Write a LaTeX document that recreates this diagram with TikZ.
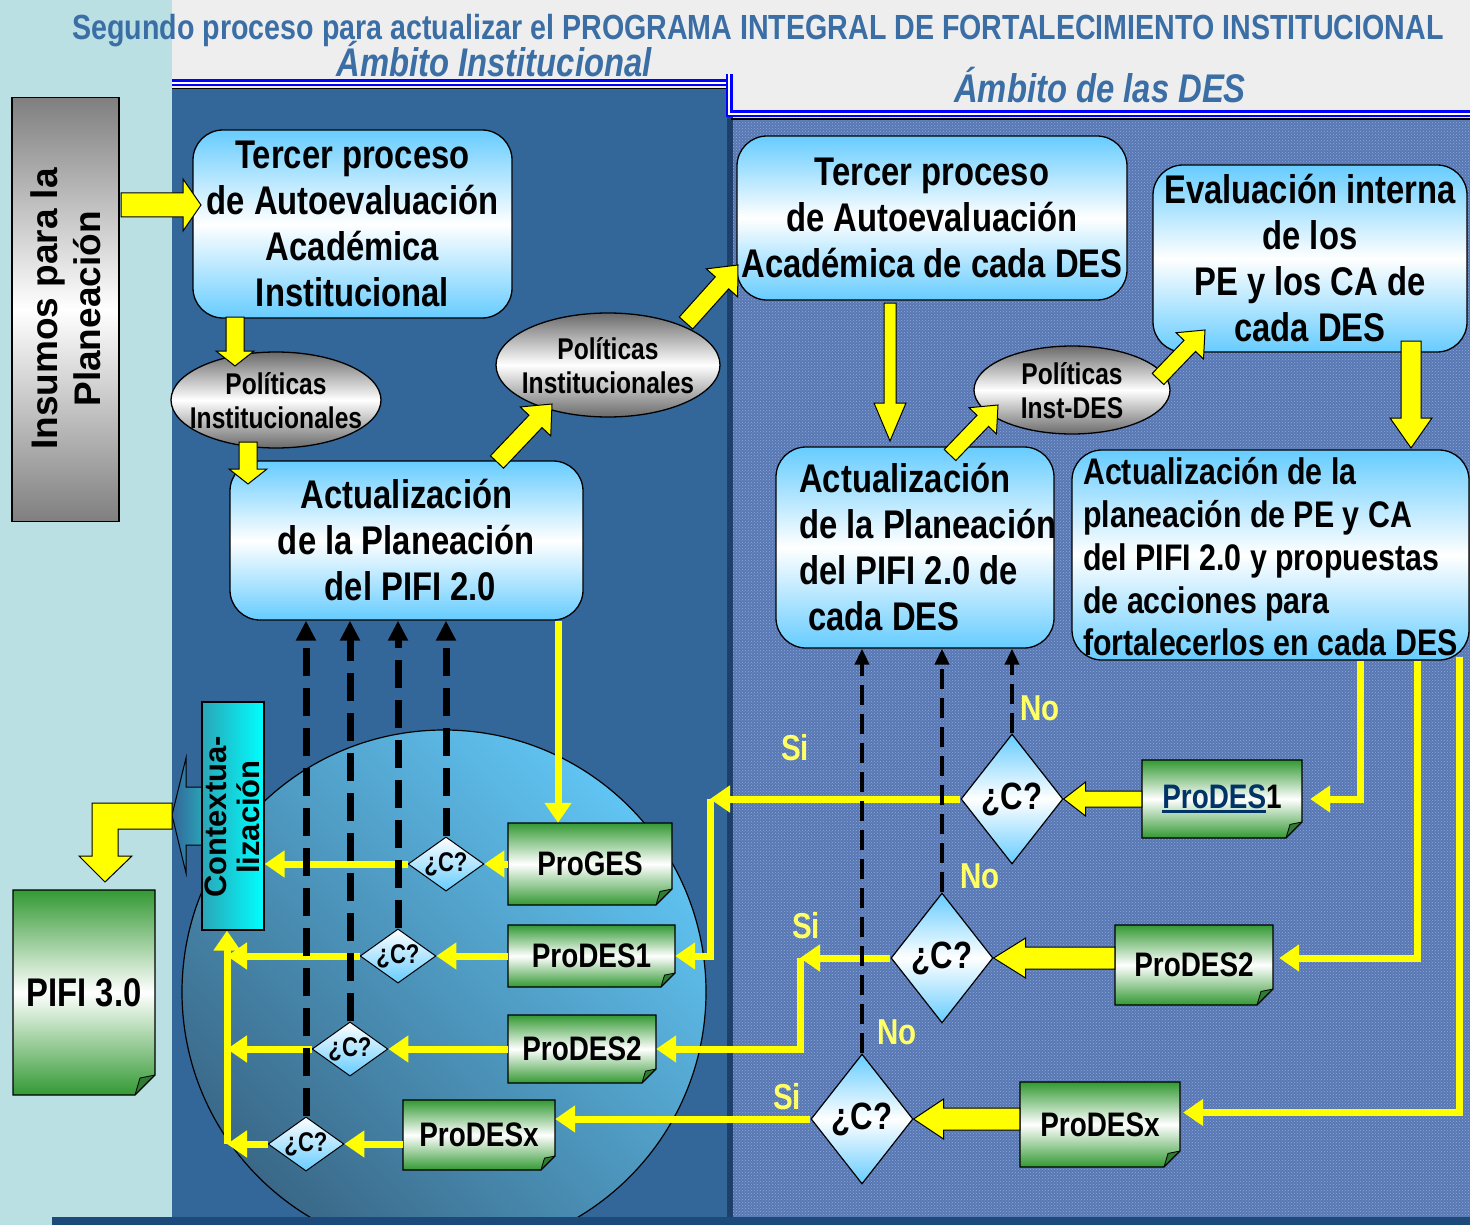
\documentclass[tikz,border=0pt]{standalone}
\usepackage{fontspec}
\setmainfont{Liberation Sans}
\newfontfamily\nrw[FakeStretch=0.82]{Liberation Sans}
\usetikzlibrary{shapes.geometric,arrows.meta,calc,patterns}

\definecolor{panelblue}{HTML}{336699}
\definecolor{desblue}{HTML}{5878B4}
\definecolor{destex}{HTML}{8EA8D8}
\definecolor{strip}{HTML}{BAE0E4}
\definecolor{marble}{HTML}{EEEEEE}
\definecolor{titleblue}{HTML}{3A6EA5}
\definecolor{lblue}{HTML}{66CCFF}
\definecolor{pgreen}{HTML}{339933}
\definecolor{dgreen}{HTML}{2E7D32}
\definecolor{ygold}{HTML}{FFFF00}
\definecolor{lyellow}{HTML}{FFFF66}
\definecolor{navy}{HTML}{003366}
\definecolor{cyanr}{HTML}{00FFFF}
\definecolor{tealc}{HTML}{2AA6B8}
\definecolor{egray}{HTML}{6A6A6A}
\definecolor{igray}{HTML}{7F7F7F}
\definecolor{sepblue}{HTML}{1E3F6A}
\definecolor{circL}{HTML}{60C4F2}
\definecolor{circD}{HTML}{3A6888}
\definecolor{barblue}{HTML}{1C4A7A}

\newcommand\btxt{\nrw\bfseries\fontsize{40}{46}\selectfont}
\newcommand\bsixtxt{\nrw\bfseries\fontsize{37}{42.8}\selectfont}
\newcommand\etxt{\nrw\bfseries\fontsize{30}{34}\selectfont}
\newcommand\sdtxt{\nrw\bfseries\fontsize{27}{29}\selectfont}
\newcommand\bdtxt{\nrw\bfseries\fontsize{38}{40}\selectfont}
\newcommand\ptxt{\nrw\bfseries\fontsize{34}{38}\selectfont}
\newcommand\labtxt{\nrw\bfseries\fontsize{36}{38}\selectfont}
\newcommand\ttltxt{\nrw\bfseries\fontsize{34.9}{38}\selectfont}
\newcommand\ambtxt{\nrw\bfseries\itshape\fontsize{40}{44}\selectfont}
\newcommand\instxt{\bfseries\fontsize{37}{43}\selectfont}
\newcommand\ctxtxt{\bfseries\fontsize{31}{33}\selectfont}
\newcommand\myul[1]{\setbox0\hbox{#1}\rlap{\rule[-4pt]{\wd0}{2.5pt}}\box0}

\tikzset{
 bbox/.style={draw=black, line width=1.3pt, rounded corners=30pt, top color=lblue, bottom color=lblue, middle color=white, align=center, inner sep=0pt, font=\btxt},
 ell/.style={ellipse, draw=black, line width=1.3pt, top color=egray, bottom color=egray, middle color=white, inner sep=0pt},
 elltext/.style={align=center, inner sep=0pt, font=\etxt},
 sdiam/.style={diamond, draw=black, line width=1pt, top color=white, bottom color=lblue, inner sep=0pt, minimum width=72pt, minimum height=52pt, aspect=1.4, font=\sdtxt},
 bdiam/.style={diamond, draw=black, line width=1.2pt, top color=lblue, bottom color=lblue, middle color=white, inner sep=0pt, minimum width=102pt, minimum height=130pt, aspect=0.78, font=\bdtxt},
 pagetext/.style={inner sep=0pt, font=\ptxt},
 pageline/.style={draw=black, line width=1.3pt, line join=miter},
 yarr/.style={draw=ygold, line width=7pt, -{Triangle[width=26pt,length=20pt]}},
 dashL/.style={draw=black, line width=7pt, dash pattern=on 28pt off 12pt, -{Triangle[width=19pt,length=20pt]}},
 dashR/.style={draw=black, line width=4.5pt, dash pattern=on 20pt off 9pt, -{Triangle[width=14pt,length=16pt]}},
 blockarrow/.style={draw=black, fill=ygold, line width=1pt, line join=miter},
 lab/.style={text=lyellow, font=\labtxt, inner sep=0pt},
 dblue/.style={draw=blue, double=white, double distance=2pt, line width=2.5pt},
}

\newcommand\blockarr[5]{%
  \coordinate (bac) at ($(#2)!#5!(#1)$);
  \draw[blockarrow] ($(#1)!#3!90:(#2)$) -- ($(bac)!#3!90:(#2)$) -- ($(bac)!#4!90:(#2)$) -- (#2) -- ($(bac)!#4!-90:(#2)$) -- ($(bac)!#3!-90:(#2)$) -- ($(#1)!#3!-90:(#2)$) -- cycle;}

\newcommand\greenpage[7]{%
  \shade[top color=pgreen,bottom color=pgreen,middle color=white] (#2,#3) -- (#4,#3) -- (#4,{#5-#6}) -- ({#4-#6},#5) -- (#2,#5) -- cycle;
  \fill[dgreen] ({#4-#6},#5) -- (#4,{#5-#6}) -- ({#4-0.75*#6},{#5-0.85*#6}) -- cycle;
  \draw[pageline] (#2,#3) -- (#4,#3) -- (#4,{#5-#6}) -- ({#4-#6},#5) -- (#2,#5) -- cycle;
  \draw[draw=black, line width=0.8pt] ({#4-#6},#5) -- ({#4-0.75*#6},{#5-0.85*#6}) -- (#4,{#5-#6});
  \node[pagetext, minimum width={#4-#2}, minimum height={#5-#3}] (#1) at ({(#2+#4)/2},{(#3+#5)/2}) {#7};}

\begin{document}
\begin{tikzpicture}[x=1pt,y=-1pt]
\useasboundingbox (0,0) rectangle (1470,1225);
% backgrounds
\fill[marble] (0,0) rectangle (1470,1225);
\fill[strip] (0,0) rectangle (172,1225);
\fill[panelblue] (172,88) rectangle (730,1225);
\fill[desblue] (731,118) rectangle (1470,1225);
\fill[pattern=crosshatch dots, pattern color=destex] (731,118) rectangle (1470,1225);
\fill[sepblue] (727,88) rectangle (733,1225);
\draw[black, line width=1.5pt] (172,88.5) -- (729,88.5);
\draw[black, line width=1.5pt] (731,119) -- (1470,119);
\draw[dblue] (172,83) -- (729,83);
\draw[dblue] (729,74) -- (729,114) -- (1470,114);

% titles
\node[anchor=base, text=titleblue, font=\ttltxt, inner sep=0] (title) at (758,40) {Segundo proceso para actualizar el PROGRAMA INTEGRAL DE FORTALECIMIENTO INSTITUCIONAL};
\node[anchor=base, text=titleblue, font=\ambtxt, inner sep=0] (ambI) at (494,77) {Ámbito Institucional};
\node[anchor=base, text=titleblue, font=\ambtxt, inner sep=0] (ambD) at (1100,103) {Ámbito de las DES};

% big circle
\shade[top color=circL, bottom color=circD, shading angle=-45, draw=black, line width=1.2pt] (444,992) circle (262);
\fill[barblue] (52,1217) rectangle (1470,1225);

% insumos
\node[draw=black, line width=1.5pt, top color=igray, bottom color=igray, middle color=white, minimum width=107pt, minimum height=424pt, inner sep=0pt] (ins) at (65.5,309.5) {};
\node[rotate=90, align=center, font=\instxt, inner sep=0pt] (instext) at (66,309) {Insumos para la\\Planeación};

% boxes
\node[bbox, minimum width=319pt, minimum height=188pt] (box1) at (352.5,224) {Tercer proceso\\de Autoevaluación\\Académica\\Institucional};
\node[bbox, minimum width=353pt, minimum height=159pt] (box2) at (406.5,540.5) {Actualización\\de la Planeación\\\hspace*{8pt}del PIFI 2.0};
\node[bbox, minimum width=390pt, minimum height=164pt] (box3) at (932,218) {Tercer proceso\\de Autoevaluación\\Académica de cada DES};
\node[bbox, minimum width=314pt, minimum height=187pt] (box4) at (1310,258.5) {Evaluación interna\\de los\\PE y los CA de\\cada DES};
\node[bbox, minimum width=278pt, minimum height=201pt] (box5) at (915,547.5) {};
\node[anchor=west, align=left, font=\btxt, inner sep=0pt] (box5t) at (799,547.5) {Actualización\\de la Planeación\\del PIFI 2.0 de\\\hspace*{9pt}cada DES};
\node[bbox, minimum width=397pt, minimum height=210pt] (box6) at (1270.5,555) {};
\node[anchor=west, align=left, font=\bsixtxt, inner sep=0pt] (box6t) at (1083,557) {Actualización de la\\planeación de PE y CA\\del PIFI 2.0 y propuestas\\de acciones para\\fortalecerlos en cada DES};

% ellipses
\node[ell, minimum width=210pt, minimum height=96pt] (ell1) at (276,400) {};
\node[elltext] (ell1t) at (276,401) {Políticas\\Institucionales};
\node[ell, minimum width=224pt, minimum height=104pt] (ell2) at (608,365) {};
\node[elltext] (ell2t) at (608,366) {Políticas\\Institucionales};
\node[ell, minimum width=196pt, minimum height=88pt] (ell3) at (1072,390) {};
\node[elltext] (ell3t) at (1072,391) {Políticas\\Inst-DES};

% contextualizacion
\shade[left color=panelblue, right color=tealc, draw=black, line width=1pt, line join=miter] (204,787) -- (186,787) -- (186,758) -- (172,815) -- (186,873) -- (186,845) -- (204,845) -- cycle;
\node[draw=black, line width=1.3pt, left color=tealc, right color=cyanr, minimum width=62pt, minimum height=228pt, inner sep=0pt] (ctx) at (233,816) {};
\node[rotate=90, align=center, font=\ctxtxt, inner sep=0pt] (ctxtext) at (232,817) {Contextua-\\lización};

% pages
\greenpage{pges}{508}{823}{672}{905}{16}{ProGES}
\greenpage{pdal}{508}{925}{675}{987}{14}{ProDES1}
\greenpage{pdbl}{508}{1015}{656}{1083}{14}{ProDES2}
\greenpage{pxl}{403}{1100}{555}{1170}{14}{ProDESx}
\greenpage{pdar}{1142}{760}{1302}{838}{16}{\textcolor{navy}{\myul{ProDES}}1}
\greenpage{pdbr}{1115}{925}{1273}{1005}{16}{ProDES2}
\greenpage{pxr}{1020}{1082}{1180}{1167}{16}{ProDESx}
\greenpage{pifi}{13}{890}{155}{1095}{20}{\fontsize{40}{44}\selectfont PIFI 3.0}

% diamonds
\node[sdiam] (D1) at (446,864) {¿C?};
\node[sdiam] (D2) at (398,956) {¿C?};
\node[sdiam] (D3) at (350,1049) {¿C?};
\node[sdiam] (D4) at (306,1144) {¿C?};
\node[bdiam] (DA) at (1012,799) {¿C?};
\node[bdiam] (DB) at (942,958) {¿C?};
\node[bdiam] (DC) at (862,1119) {¿C?};

% left panel yellow connectors
\coordinate (b2o) at ([xshift=151.5pt]box2.south);
\coordinate (vl) at ([xshift=-6pt]ctx.south);
\draw[yarr] (b2o) -- (b2o |- pges.north);
\draw[yarr] (D1.east -| pges.west) -- (D1.east);
\draw[yarr] (D1.west) -- (D1.west -| ctx.east);
\draw[yarr] (D2.east -| pdal.west) -- (D2.east);
\draw[yarr] (D2.west) -- (D2.west -| vl);
\draw[yarr] (D3.east -| pdbl.west) -- (D3.east);
\draw[yarr] (D3.west) -- (D3.west -| vl);
\draw[yarr] (D4.east -| pxl.west) -- (D4.east);
\draw[yarr] (D4.west) -- (D4.west -| vl);
\draw[yarr] (D4.west -| vl) -- (vl);

% right panel yellow connectors
\coordinate (r1) at ([xshift=89.5pt]box6.south);
\coordinate (r2) at ([xshift=146.5pt]box6.south);
\coordinate (r3) at ([xshift=189pt,yshift=4pt]box6.south);
\draw[yarr, shorten >=8pt] (r1) |- (pdar.east);
\draw[yarr, shorten >=6pt] (r2) |- ([yshift=7pt]pdbr.east);
\draw[yarr, shorten >=3pt] (r3) |- ([yshift=12pt]pxr.east);
\coordinate (jA) at (710,799);
\coordinate (jB) at (800,958);
\draw[yarr] (DA.west) -- (jA);
\draw[yarr] (jA) |- (pdal.east);
\draw[yarr] (DB.west) -- (jB);
\draw[yarr] (jB) |- (pdbl.east);
\draw[yarr] (DC.west) -- (DC.west -| pxl.east);

% dashed feedback arrows
\draw[dashL] (D1.north) -- (D1.north |- box2.south);
\draw[dashL] (D2.north) -- (D2.north |- box2.south);
\draw[dashL] (D3.north) -- (D3.north |- box2.south);
\draw[dashL] (D4.north) -- (D4.north |- box2.south);
\draw[dashR] (DA.north) -- (DA.north |- box5.south);
\draw[dashR] (DB.north) -- (DB.north |- box5.south);
\draw[dashR] (DC.north) -- (DC.north |- box5.south);

% block arrows
\coordinate (a0s) at (121,205); \coordinate (a0e) at (201,205);
\blockarr{a0s}{a0e}{12pt}{26pt}{18pt}
\coordinate (a1s) at (235,317); \coordinate (a1e) at (235,366);
\blockarr{a1s}{a1e}{9pt}{19pt}{15pt}
\coordinate (a2s) at (248,442); \coordinate (a2e) at (248,484);
\blockarr{a2s}{a2e}{9pt}{19pt}{15pt}
\coordinate (a3s) at (497,462); \coordinate (a3e) at (552,404);
\blockarr{a3s}{a3e}{9pt}{21pt}{24pt}
\coordinate (a4s) at (686,323); \coordinate (a4e) at (738,265);
\blockarr{a4s}{a4e}{9pt}{21pt}{24pt}
\coordinate (a5s) at (890,303); \coordinate (a5e) at (890,441);
\blockarr{a5s}{a5e}{6pt}{16pt}{38pt}
\coordinate (a6s) at (950,455); \coordinate (a6e) at (998,405);
\blockarr{a6s}{a6e}{8pt}{19pt}{22pt}
\coordinate (a7s) at (1158,379); \coordinate (a7e) at (1205,330);
\blockarr{a7s}{a7e}{8pt}{19pt}{22pt}
\coordinate (a8s) at (1411,341); \coordinate (a8e) at (1411,448);
\blockarr{a8s}{a8e}{10pt}{21pt}{30pt}
\coordinate (a9s) at (pdar.west |- DA.east);
\blockarr{a9s}{DA.east}{8pt}{17pt}{22pt}
\coordinate (a10s) at (pdbr.west |- DB.east);
\blockarr{a10s}{DB.east}{11pt}{20pt}{32pt}
\coordinate (a11s) at (pxr.west |- DC.east);
\blockarr{a11s}{DC.east}{11pt}{20pt}{30pt}

% L arrow to PIFI 3.0
\draw[blockarrow] (172,803) -- (92,803) -- (92,856) -- (79,856) -- (105,882) -- (132,856) -- (118,856) -- (118,829) -- (172,829) -- cycle;

% labels
\node[lab] (si1) at (795,748) {Si};
\node[lab] (no1) at (1040,708) {No};
\node[lab] (no2) at (980,876) {No};
\node[lab] (si2) at (806,926) {Si};
\node[lab] (no3) at (897,1032) {No};
\node[lab] (si3) at (787,1097) {Si};
\end{tikzpicture}
\end{document}
